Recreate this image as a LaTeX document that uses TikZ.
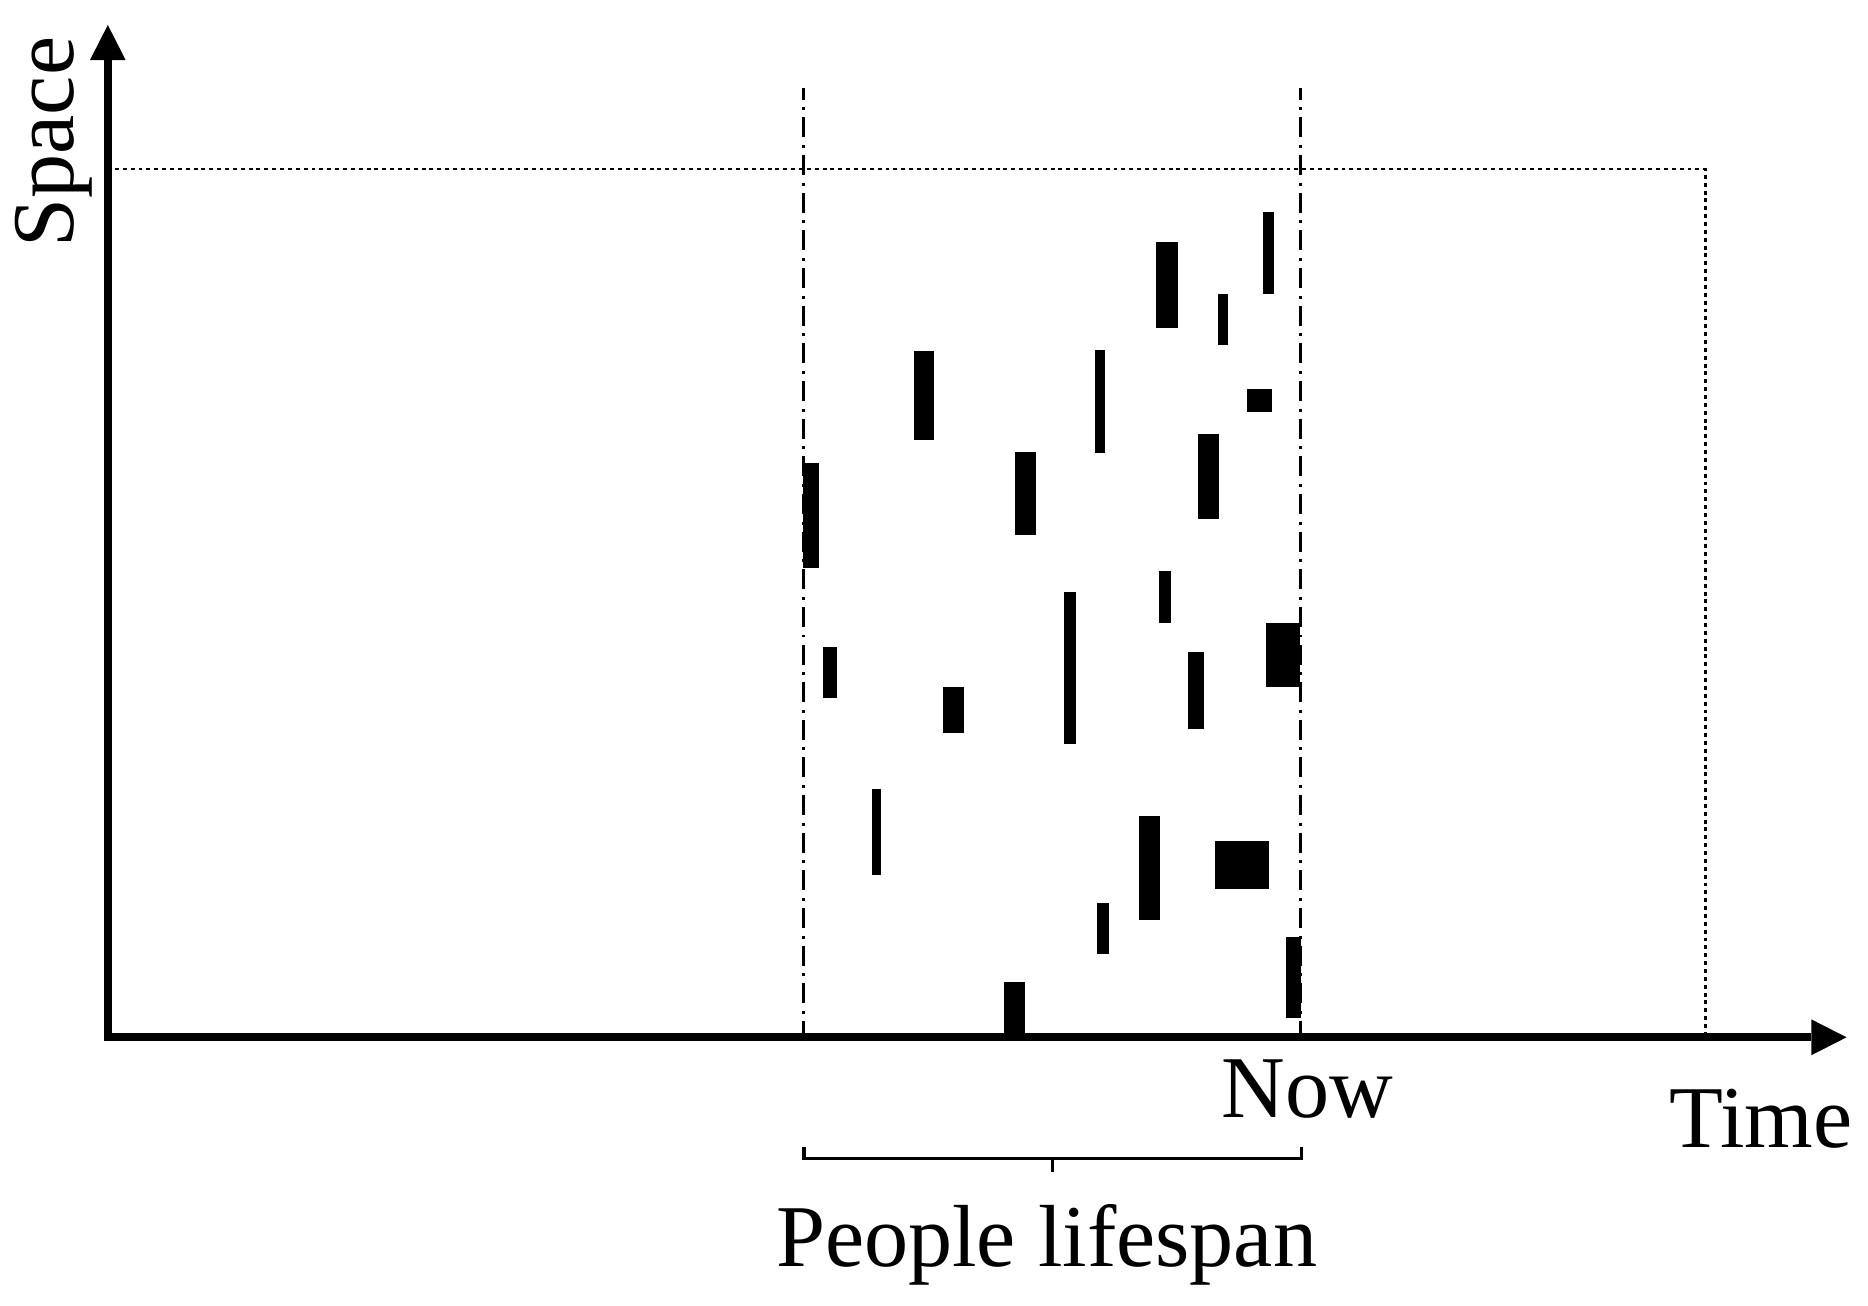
\documentclass[tikz,border=0pt]{standalone}
\usepackage{fontspec}
\setmainfont{Liberation Serif}
\usetikzlibrary{arrows.meta}
\begin{document}
\begin{tikzpicture}[x=0.5pt,y=-0.5pt,
  axis/.style={line width=3.5pt,line join=miter,
    {Triangle[length=14.75pt,width=15pt,line width=0pt]}-{Triangle[length=14.75pt,width=15pt,line width=0pt]}},
  dotline/.style={line width=1.1pt,dash pattern=on 1.65pt off 1.65pt},
  dashdot/.style={line width=1.2pt,dash pattern=on 8.4pt off 3.2pt on 1.25pt off 2.95pt,dash phase=3.5pt},
  bar/.style={fill=black},
  lbl/.style={inner sep=0pt,anchor=base west,font=\fontsize{37}{44}\selectfont},
  brace/.style={line width=1.4pt}]
\useasboundingbox (0,0) rectangle (1568,1096);
% axes
\coordinate (ytip) at (90.5,21);
\coordinate (origin) at (90.5,870.7);
\coordinate (xtip) at (1550,870.7);
% dotted limit
\coordinate (d1) at (96.5,142);
\coordinate (d2) at (1431.5,142);
\coordinate (d3) at (1431.5,867);
\draw[dotline] (d1) -- (d2) -- (d3);
% dash-dot lifespan lines
\coordinate (l1) at (674.5,74);
\coordinate (l2) at (674.5,868);
\coordinate (r1) at (1091.5,74);
\coordinate (r2) at (1091.5,868);
\draw[dashdot] (l1) -- (l2);
\draw[dashdot] (r1) -- (r2);
% bars
\fill[bar] (1060.3,177.7) rectangle (1069.5,246.8);
\fill[bar] (970.4,203.4) rectangle (988.6,275.1);
\fill[bar] (1022.2,246.8) rectangle (1031.1,289.9);
\fill[bar] (767.5,294.9) rectangle (784.2,369.3);
\fill[bar] (919.5,294.1) rectangle (927.3,380.5);
\fill[bar] (1047.0,326.8) rectangle (1067.5,345.6);
\fill[bar] (851.6,379.1) rectangle (869.8,449.1);
\fill[bar] (1005.4,364.3) rectangle (1023.3,435.9);
\fill[bar] (674.4,388.9) rectangle (687.1,477.1);
\fill[bar] (972.7,479.3) rectangle (982.8,522.7);
\fill[bar] (893.5,496.7) rectangle (903.3,624.5);
\fill[bar] (690.9,542.8) rectangle (702.4,586.2);
\fill[bar] (791.2,577.0) rectangle (808.8,615.6);
\fill[bar] (997.6,547.6) rectangle (1010.3,611.7);
\fill[bar] (1062.3,522.7) rectangle (1091.3,577.0);
\fill[bar] (731.6,662.3) rectangle (739.2,734.5);
\fill[bar] (955.7,685.0) rectangle (973.3,772.6);
\fill[bar] (1020.2,705.7) rectangle (1064.9,746.0);
\fill[bar] (920.9,757.7) rectangle (930.8,801.1);
\fill[bar] (842.4,824.6) rectangle (860.0,870.2);
\fill[bar] (1079.1,786.5) rectangle (1091.8,854.8);
% axes on top
\draw[axis] (ytip) -- (origin) -- (xtip);
% bracket
\coordinate (b1) at (675,963);
\coordinate (b2) at (675,972.3);
\coordinate (b3) at (1092.5,972.3);
\coordinate (b4) at (1092.5,963);
\coordinate (bc1) at (883.7,972.3);
\coordinate (bc2) at (883.7,983.5);
\draw[brace] (b1) -- (b2) -- (b3) -- (b4);
\draw[brace] (bc1) -- (bc2);
% labels
\node[lbl,rotate=90] (space) at (62,208) {Space};
\node[lbl] (now) at (1025,938) {Now};
\node[lbl] (time) at (1401,963.4) {Time};
\node[lbl] (life) at (651,1063.3) {People lifespan};
\end{tikzpicture}
\end{document}
